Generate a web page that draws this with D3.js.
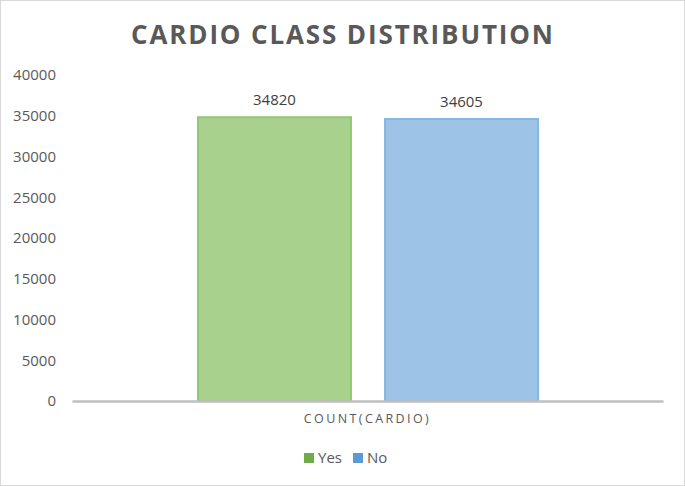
<html><head>
<style>
body { margin: 0; padding: 0; background: white; }
svg { display: block; font-family: 'Open Sans', sans-serif; }
</style>
</head>
<body>
<svg id="chart" width="685" height="486"></svg>
<script src="https://d3js.org/d3.v7.min.js"></script>
<script>
// chart values
const categories = ["COUNT(CARDIO)"];
const series = ["Yes", "No"];
const values = [34820, 34605];
const yTicks = [0, 5000, 10000, 15000, 20000, 25000, 30000, 35000, 40000];
const title = "CARDIO CLASS DISTRIBUTION";

const fills = { Yes: "#a9d18e", No: "#9dc3e6" };
const edges = { Yes: "#93c873", No: "#86b8e3" };
const keys = { Yes: "#70ad47", No: "#5b9bd5" };

const svg = d3.select("#chart");
const W = 685, H = 486;

svg.append("rect")
  .attr("x", 0.5).attr("y", 0.5)
  .attr("width", W - 1).attr("height", H - 1)
  .attr("fill", "white")
  .attr("stroke", "#d9d9d9");

svg.append("text")
  .attr("x", 342).attr("y", 44)
  .attr("text-anchor", "middle")
  .attr("font-size", 26)
  .attr("font-weight", "bold")
  .attr("fill", "#595959")
  .attr("textLength", 422)
  .attr("lengthAdjust", "spacing")
  .text(title);

const y = d3.scaleLinear().domain([0, 40000]).range([401, 75]);
const x0 = d3.scaleBand().domain(categories).range([72, 663]);
const x1 = d3.scaleBand().domain(series)
  .range([x0(categories[0]) + 126, x0(categories[0]) + x0.bandwidth() - 125])
  .paddingInner(0.182);

// y axis labels (no line)
const yAxis = svg.append("g")
  .attr("transform", "translate(56,0)")
  .call(d3.axisLeft(y).tickValues(yTicks).tickSize(0).tickPadding(0).tickFormat(d3.format("d")));
yAxis.select(".domain").remove();
yAxis.selectAll("text")
  .attr("font-family", "'Open Sans', sans-serif")
  .attr("font-size", 15)
  .attr("fill", "#595959");

// bars
const rows = series.map((s, i) => ({ cat: categories[0], key: s, value: values[i] }));
svg.selectAll("rect.bar")
  .data(rows)
  .join("rect")
  .attr("class", "bar")
  .attr("x", d => x1(d.key))
  .attr("y", d => y(d.value))
  .attr("width", x1.bandwidth())
  .attr("height", d => y(0) - y(d.value))
  .attr("fill", d => fills[d.key])
  .attr("stroke", d => edges[d.key])
  .attr("stroke-width", 2);

svg.selectAll("text.lbl")
  .data(rows)
  .join("text")
  .attr("class", "lbl")
  .attr("x", d => x1(d.key) + x1.bandwidth() / 2)
  .attr("y", d => y(d.value) - 12)
  .attr("text-anchor", "middle")
  .attr("font-size", 15)
  .attr("fill", "#404040")
  .text(d => d.value);

// x axis
const xAxis = svg.append("g")
  .attr("transform", "translate(0,401)")
  .call(d3.axisBottom(x0).tickSize(0).tickPadding(13));
xAxis.select(".domain")
  .attr("stroke", "#bfbfbf")
  .attr("stroke-width", 2.5);
xAxis.selectAll("text")
  .attr("font-family", "'Open Sans', sans-serif")
  .attr("font-size", 12.5)
  .attr("letter-spacing", "2.4px")
  .attr("fill", "#595959");

// legend
const legend = svg.append("g").attr("transform", "translate(304,458)");
const lx = [0, 49];
series.forEach((s, i) => {
  const g = legend.append("g").attr("transform", `translate(${lx[i]},0)`);
  g.append("rect").attr("x", 0).attr("y", -5).attr("width", 10).attr("height", 10).attr("fill", keys[s]);
  g.append("text").attr("x", 14).attr("y", 0).attr("dy", "0.35em")
    .attr("font-size", 15).attr("fill", "#595959").text(s);
});
</script>
</body>
</html>
